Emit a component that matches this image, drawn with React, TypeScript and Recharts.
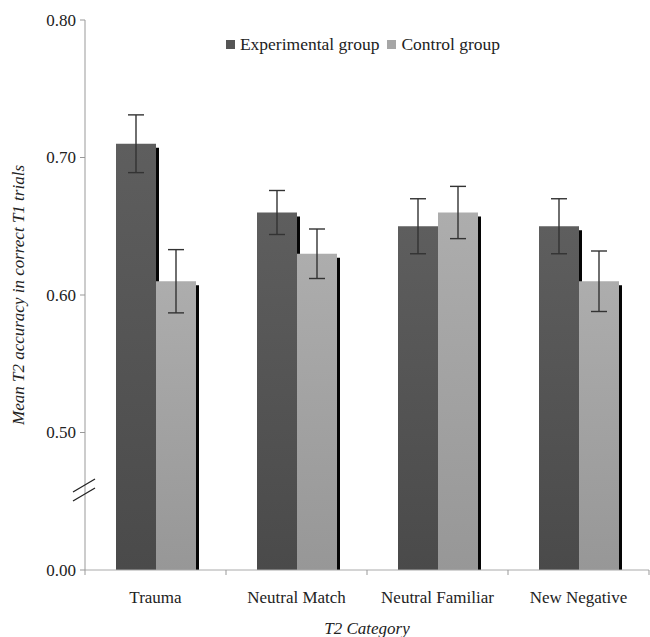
import React from "react";
import { Bar, BarChart, ErrorBar, Legend, XAxis, YAxis } from "recharts";

// values
const categories = ["Trauma", "Neutral Match", "Neutral Familiar", "New Negative"];
const experimental = [0.71, 0.66, 0.65, 0.65];
const control = [0.61, 0.63, 0.66, 0.61];
const experimentalErr = [0.021, 0.016, 0.02, 0.02];
const controlErr = [0.023, 0.018, 0.019, 0.022];
const yTicks = [0.4, 0.5, 0.6, 0.7, 0.8];

const data = categories.map((category, i) => ({
  category,
  experimental: experimental[i],
  control: control[i],
  experimentalErr: experimentalErr[i],
  controlErr: controlErr[i],
}));

const FONT = "Liberation Serif, Times New Roman, DejaVu Serif, serif";

// 0.40 on the scale is shown as 0.00 because the axis is broken
const formatY = (v: number) => (v === 0.4 ? "0.00" : v.toFixed(2));

const ShadowBar = (props: any) => {
  const { x, y, width, height, fill } = props;
  if (!height || height <= 0) return null;
  return (
    <g>
      <rect x={x + width} y={y + 4} width={3} height={height - 3} fill="#050505" />
      <rect x={x + 2} y={y + height} width={width + 1} height={2} fill="#333" />
      <rect x={x} y={y} width={width} height={height} fill={fill} />
    </g>
  );
};

const YTick = (props: any) => {
  const { x, y, payload } = props;
  const v = payload.value;
  return (
    <g>
      <text
        x={x}
        y={y}
        textAnchor="end"
        dominantBaseline="central"
        style={{ fontFamily: FONT, fontSize: 17 }}
        fill="#222"
      >
        {formatY(v)}
      </text>
      {v === 0.4 && (
        <g stroke="#222" strokeWidth={1.3}>
          <line x1={x - 3} y1={y - 78} x2={x + 19} y2={y - 91} />
          <line x1={x - 3} y1={y - 69} x2={x + 19} y2={y - 82} />
        </g>
      )}
    </g>
  );
};

const XTick = (props: any) => {
  const { x, y, payload, index } = props;
  const half = payload.offset || 70.5;
  const axisY = y - 5;
  return (
    <g>
      <line x1={x - half} y1={axisY} x2={x - half} y2={axisY + 5} stroke="#999" />
      {index === categories.length - 1 && (
        <line x1={x + half} y1={axisY} x2={x + half} y2={axisY + 5} stroke="#999" />
      )}
      <text
        x={x}
        y={axisY + 33}
        textAnchor="middle"
        style={{ fontFamily: FONT, fontSize: 17 }}
        fill="#222"
      >
        {payload.value}
      </text>
    </g>
  );
};

const legendItems = [
  { label: "Experimental group", color: "#555" },
  { label: "Control group", color: "#a6a6a6" },
];

const LegendContent = () => (
  <div
    style={{
      display: "flex",
      justifyContent: "center",
      alignItems: "center",
      fontFamily: FONT,
      fontSize: 17.5,
      color: "#222",
    }}
  >
    {legendItems.map((item) => (
      <span
        key={item.label}
        style={{ display: "flex", alignItems: "center", marginRight: 8 }}
      >
        <span
          style={{
            width: 9,
            height: 9,
            background: item.color,
            marginRight: 5,
            display: "inline-block",
          }}
        />
        {item.label}
      </span>
    ))}
  </div>
);

export default function App() {
  return (
    <div style={{ position: "absolute", left: 0, top: 0, background: "#fff" }}>
      <BarChart
        width={650}
        height={637}
        data={data}
        margin={{ top: 20, right: 1, left: 0, bottom: 0 }}
        barSize={40}
        barGap={0}
      >
        <defs>
          <linearGradient id="gradDark" x1="0" y1="0" x2="0" y2="1">
            <stop offset="0%" stopColor="#5e5e5e" />
            <stop offset="100%" stopColor="#4a4a4a" />
          </linearGradient>
          <linearGradient id="gradLight" x1="0" y1="0" x2="0" y2="1">
            <stop offset="0%" stopColor="#adadad" />
            <stop offset="100%" stopColor="#979797" />
          </linearGradient>
        </defs>
        <XAxis
          dataKey="category"
          height={67}
          axisLine={{ stroke: "#aaa" }}
          tickLine={false}
          tickSize={5}
          tickMargin={0}
          tick={<XTick />}
          interval={0}
          label={{
            content: (p: any) => (
              <text
                x={p.viewBox.x + p.viewBox.width / 2}
                y={634}
                textAnchor="middle"
                style={{ fontFamily: FONT, fontStyle: "italic", fontSize: 17 }}
                fill="#222"
              >
                T2 Category
              </text>
            ),
          }}
        />
        <YAxis
          type="number"
          width={85}
          domain={[0.4, 0.8]}
          ticks={yTicks}
          allowDataOverflow
          axisLine={{ stroke: "#999" }}
          tickLine={{ stroke: "#999" }}
          tickSize={5}
          tickMargin={4}
          tick={<YTick />}
          label={{
            content: (p: any) => (
              <text
                x={18}
                y={p.viewBox.y + p.viewBox.height / 2}
                transform={`rotate(-90, 18, ${p.viewBox.y + p.viewBox.height / 2})`}
                textAnchor="middle"
                dominantBaseline="central"
                style={{ fontFamily: FONT, fontStyle: "italic", fontSize: 17 }}
                fill="#222"
              >
                Mean T2 accuracy in correct T1 trials
              </text>
            ),
          }}
        />
        <Legend
          verticalAlign="middle"
          align="center"
          layout="horizontal"
          content={<LegendContent />}
          wrapperStyle={{ top: 34, left: 85, width: 564 }}
        />
        <Bar
          dataKey="experimental"
          name="Experimental group"
          fill="url(#gradDark)"
          shape={<ShadowBar />}
          isAnimationActive={false}
        >
          <ErrorBar
            dataKey="experimentalErr"
            width={8}
            stroke="#333"
            strokeWidth={1.4}
            isAnimationActive={false}
          />
        </Bar>
        <Bar
          dataKey="control"
          name="Control group"
          fill="url(#gradLight)"
          shape={<ShadowBar />}
          isAnimationActive={false}
        >
          <ErrorBar
            dataKey="controlErr"
            width={8}
            stroke="#333"
            strokeWidth={1.4}
            isAnimationActive={false}
          />
        </Bar>
      </BarChart>
    </div>
  );
}
